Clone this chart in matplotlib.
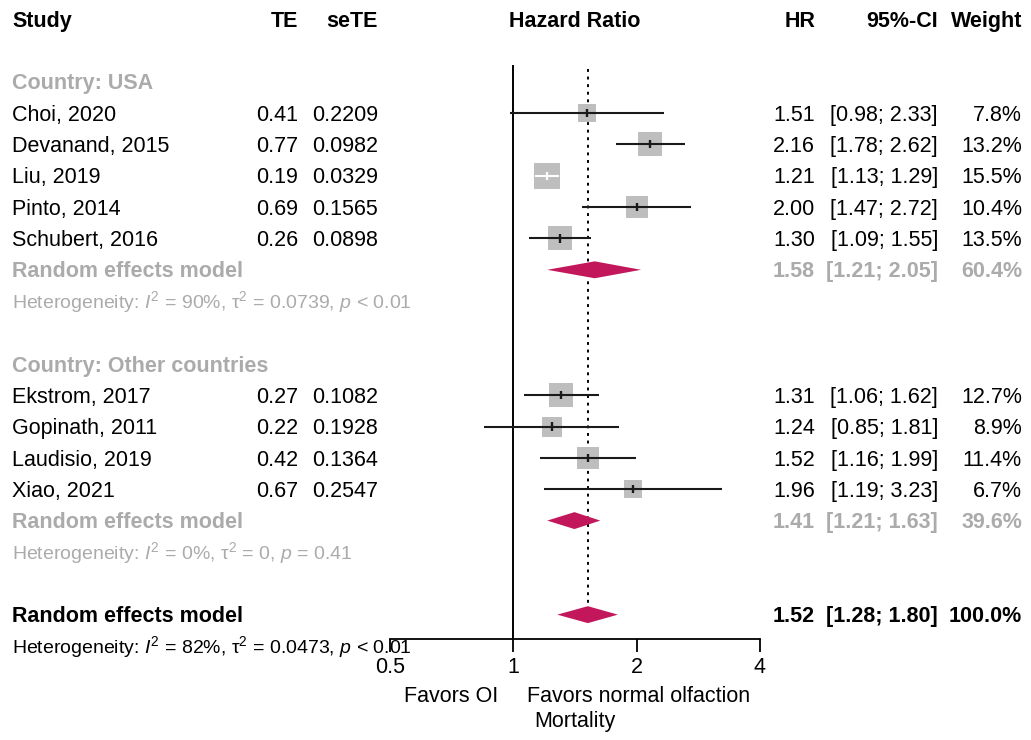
import numpy as np
import matplotlib
matplotlib.use("Agg")
import matplotlib.pyplot as plt

plt.rcParams['font.family'] = ['Liberation Sans', 'DejaVu Sans']
plt.rcParams['mathtext.fontset'] = 'custom'
plt.rcParams['mathtext.rm'] = 'Liberation Sans'
plt.rcParams['mathtext.it'] = 'Liberation Sans:italic'
plt.rcParams['mathtext.bf'] = 'Liberation Sans:bold'
plt.rcParams['mathtext.default'] = 'regular'

# ---------------- data ----------------
studies_usa = ["Choi, 2020", "Devanand, 2015", "Liu, 2019", "Pinto, 2014", "Schubert, 2016"]
te_usa = ["0.41", "0.77", "0.19", "0.69", "0.26"]
sete_usa = ["0.2209", "0.0982", "0.0329", "0.1565", "0.0898"]
hr_usa = [1.51, 2.16, 1.21, 2.00, 1.30]
lo_usa = [0.98, 1.78, 1.13, 1.47, 1.09]
hi_usa = [2.33, 2.62, 1.29, 2.72, 1.55]
w_usa = [7.8, 13.2, 15.5, 10.4, 13.5]

studies_oth = ["Ekstrom, 2017", "Gopinath, 2011", "Laudisio, 2019", "Xiao, 2021"]
te_oth = ["0.27", "0.22", "0.42", "0.67"]
sete_oth = ["0.1082", "0.1928", "0.1364", "0.2547"]
hr_oth = [1.31, 1.24, 1.52, 1.96]
lo_oth = [1.06, 0.85, 1.16, 1.19]
hi_oth = [1.62, 1.81, 1.99, 3.23]
w_oth = [12.7, 8.9, 11.4, 6.7]

re_usa = (1.58, 1.21, 2.05, 60.4)
re_oth = (1.41, 1.21, 1.63, 39.6)
re_all = (1.52, 1.28, 1.80, 100.0)

het_usa = r"Heterogeneity: $\mathit{I}^2$ = 90%, $\tau^2$ = 0.0739, $\mathit{p}$ < 0.01"
het_oth = r"Heterogeneity: $\mathit{I}^2$ = 0%, $\tau^2$ = 0, $\mathit{p}$ = 0.41"
het_all = r"Heterogeneity: $\mathit{I}^2$ = 82%, $\tau^2$ = 0.0473, $\mathit{p}$ < 0.01"

xticks = [0.5, 1, 2, 4]
xticklabels = ["0.5", "1", "2", "4"]

# ---------------- styling ----------------
W, H = 1031, 740
FS = 15.5
FS_HET = 14.0
GRAY_TXT = "#ABABAB"
BOX = "#BEBEBE"
DIAM = "#C2185B"
ROW0, ROWH = 19.0, 31.35
PX_PER_DOUBLING = 123.5

def ypx(k):
    return ROW0 + ROWH * k

fig = plt.figure(figsize=(W / 100, H / 100), dpi=100)
axt = fig.add_axes([0, 0, 1, 1])
axt.set_xlim(0, W)
axt.set_ylim(H, 0)
axt.axis('off')

ax_left, ax_right, ax_bottom_px = 390, 760, 638.5
axf = fig.add_axes([ax_left / W, 1 - ax_bottom_px / H, (ax_right - ax_left) / W, ax_bottom_px / H])
axf.set_xscale('log')
axf.set_xlim(0.5, 4)
axf.set_ylim((ax_bottom_px - ROW0) / ROWH, -ROW0 / ROWH)
axf.patch.set_alpha(0)
for s in ['top', 'right', 'left']:
    axf.spines[s].set_visible(False)
axf.spines['bottom'].set_linewidth(1.3)
axf.set_yticks([])
axf.set_xticks(xticks)
axf.set_xticklabels(xticklabels, fontsize=FS)
axf.xaxis.set_minor_locator(matplotlib.ticker.NullLocator())
axf.tick_params(axis='x', length=9.5, width=1.3, pad=4)

def txt(x, k, s, ha='left', bold=False, color='black', size=FS):
    axt.text(x, ypx(k) + 0.36 * size * 100 / 72 * 0.99, s, ha=ha, va='baseline',
             fontsize=size, fontweight='bold' if bold else 'normal', color=color)

X_STUDY, X_TE, X_SETE, X_HR, X_CI, X_W = 12, 298, 378, 815, 938, 1022

# header
txt(X_STUDY, 0, "Study", bold=True)
txt(X_TE, 0, "TE", ha='right', bold=True)
txt(X_SETE, 0, "seTE", ha='right', bold=True)
txt(575, 0, "Hazard Ratio", ha='center', bold=True)
txt(X_HR, 0, "HR", ha='right', bold=True)
txt(X_CI, 0, "95%-CI", ha='right', bold=True)
txt(X_W, 0, "Weight", ha='right', bold=True)

# reference lines
axf.plot([1, 1], [1.5, (ax_bottom_px - ROW0) / ROWH], color='black', lw=1.4, zorder=1)
axf.plot([re_all[0]] * 2, [1.6, 18.72], color='black', lw=1.4, ls=(0, (1.5, 2.4)), zorder=1)

BASE_SIDE = 26.0

def study_row(k, name, te, se, hr, lo, hi, w):
    txt(X_STUDY, k, name)
    txt(X_TE, k, te, ha='right')
    txt(X_SETE, k, se, ha='right')
    txt(X_HR, k, f"{hr:.2f}", ha='right')
    txt(X_CI, k, f"[{lo:.2f}; {hi:.2f}]", ha='right')
    txt(X_W, k, f"{w:.1f}%", ha='right')
    side = BASE_SIDE * np.sqrt(w / 15.5)
    axf.scatter([hr], [k], marker='s', s=(side * 0.72) ** 2, color=BOX, linewidths=0, zorder=2)
    half = side / 2 / PX_PER_DOUBLING
    inside = lo >= hr * 2 ** (-half) and hi <= hr * 2 ** half
    c = 'white' if inside else '#1a1a1a'
    axf.plot([lo, hi], [k, k], color=c, lw=1.5, zorder=3, solid_capstyle='butt')
    axf.plot([hr, hr], [k - 0.13, k + 0.13], color=c, lw=1.7, zorder=3, solid_capstyle='butt')

def diamond(k, est, lo, hi):
    hh = 0.27
    axf.fill([lo, est, hi, est], [k, k - hh, k, k + hh], color=DIAM, lw=0, zorder=3)

def re_row(k, vals, color, het, hetcolor):
    est, lo, hi, w = vals
    txt(X_STUDY, k, "Random effects model", bold=True, color=color)
    txt(X_HR, k, f"{est:.2f}", ha='right', bold=True, color=color)
    txt(X_CI, k, f"[{lo:.2f}; {hi:.2f}]", ha='right', bold=True, color=color)
    txt(X_W, k, f"{w:.1f}%", ha='right', bold=True, color=color)
    diamond(k, est, lo, hi)
    txt(X_STUDY, k + 1, het, color=hetcolor, size=FS_HET)

# USA subgroup
txt(X_STUDY, 2, "Country: USA", bold=True, color=GRAY_TXT)
for i in range(len(studies_usa)):
    study_row(3 + i, studies_usa[i], te_usa[i], sete_usa[i], hr_usa[i], lo_usa[i], hi_usa[i], w_usa[i])
re_row(8, re_usa, GRAY_TXT, het_usa, GRAY_TXT)

# Other countries
txt(X_STUDY, 11, "Country: Other countries", bold=True, color=GRAY_TXT)
for i in range(len(studies_oth)):
    study_row(12 + i, studies_oth[i], te_oth[i], sete_oth[i], hr_oth[i], lo_oth[i], hi_oth[i], w_oth[i])
re_row(16, re_oth, GRAY_TXT, het_oth, GRAY_TXT)

# overall
re_row(19, re_all, 'black', het_all, 'black')

# bottom labels
axt.text(498, 697, "Favors OI", ha='right', va='center', fontsize=FS)
axt.text(527, 697, "Favors normal olfaction", ha='left', va='center', fontsize=FS)
axt.text(575, 722, "Mortality", ha='center', va='center', fontsize=FS)

fig.savefig("out.png", dpi=100)
